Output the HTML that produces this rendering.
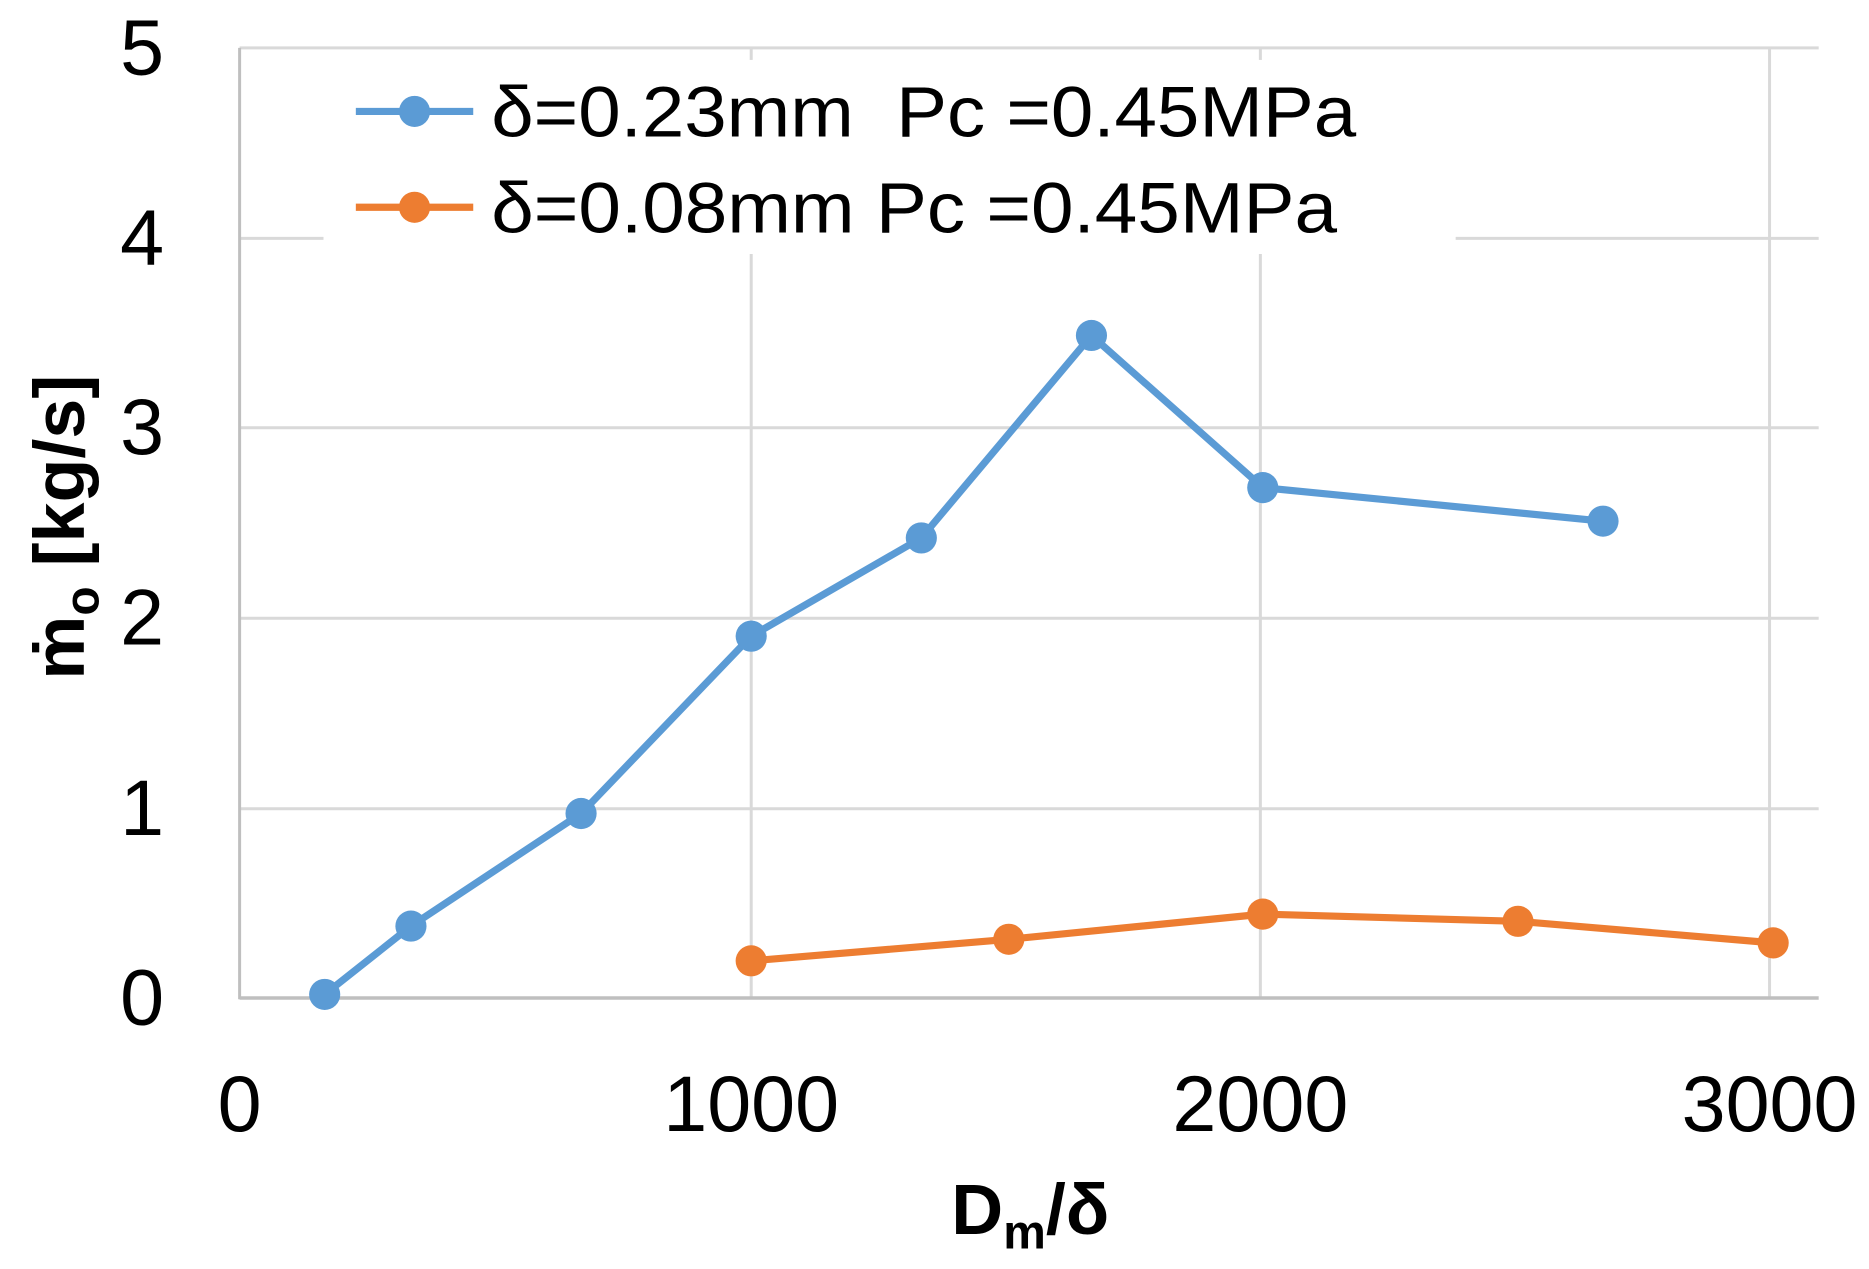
<!DOCTYPE html>
<html><head><meta charset="utf-8"><style>html,body{margin:0;padding:0;background:#fff}svg{display:block}</style></head>
<body>
<svg width="1869" height="1269" viewBox="0 0 1560 1059.2" xmlns="http://www.w3.org/2000/svg" font-family="Liberation Sans, sans-serif">
<rect width="1560" height="1060" fill="#fff"/>
<g stroke="#d9d9d9" stroke-width="2.5" fill="none">
<line x1="200" y1="40" x2="1518" y2="40"/>
<line x1="200" y1="199" x2="1518" y2="199"/>
<line x1="200" y1="357" x2="1518" y2="357"/>
<line x1="200" y1="516" x2="1518" y2="516"/>
<line x1="200" y1="675" x2="1518" y2="675"/>
<line x1="627" y1="40" x2="627" y2="833"/>
<line x1="1052" y1="40" x2="1052" y2="833"/>
<line x1="1477" y1="40" x2="1477" y2="833"/>
</g>
<line x1="200" y1="40" x2="200" y2="834" stroke="#bfbfbf" stroke-width="2.5"/>
<line x1="200" y1="833" x2="1518" y2="833" stroke="#bfbfbf" stroke-width="3"/>
<rect x="270" y="50" width="945" height="162" fill="#fff"/>
<polyline fill="none" stroke="#5b9bd5" stroke-width="6" stroke-linejoin="round" points="271,830 343,773 485,679 627,531 769,449 911,280 1054,407 1338,435"/>
<g fill="#5b9bd5">
<circle cx="271" cy="830" r="13"/><circle cx="343" cy="773" r="13"/><circle cx="485" cy="679" r="13"/><circle cx="627" cy="531" r="13"/><circle cx="769" cy="449" r="13"/><circle cx="911" cy="280" r="13"/><circle cx="1054" cy="407" r="13"/><circle cx="1338" cy="435" r="13"/>
</g>
<polyline fill="none" stroke="#ed7d31" stroke-width="6" stroke-linejoin="round" points="627,802 842,784 1054,763 1267,769 1480,787"/>
<g fill="#ed7d31">
<circle cx="627" cy="802" r="13"/><circle cx="842" cy="784" r="13"/><circle cx="1054" cy="763" r="13"/><circle cx="1267" cy="769" r="13"/><circle cx="1480" cy="787" r="13"/>
</g>
<line x1="297" y1="93" x2="395" y2="93" stroke="#5b9bd5" stroke-width="6"/>
<circle cx="346" cy="93" r="13" fill="#5b9bd5"/>
<line x1="297" y1="173" x2="395" y2="173" stroke="#ed7d31" stroke-width="6"/>
<circle cx="346" cy="173" r="13" fill="#ed7d31"/>
<g font-size="60" fill="#000">
<text x="410" y="114" textLength="722" lengthAdjust="spacingAndGlyphs" xml:space="preserve">δ=0.23mm  Pc =0.45MPa</text>
<text x="410" y="194" textLength="706" lengthAdjust="spacingAndGlyphs">δ=0.08mm Pc =0.45MPa</text>
</g>
<g font-size="66" fill="#000" text-anchor="end">
<text x="137" y="62">5</text><text x="137" y="221">4</text><text x="137" y="379">3</text><text x="137" y="538">2</text><text x="137" y="697">1</text><text x="137" y="855">0</text>
</g>
<g font-size="66" fill="#000" text-anchor="middle">
<text x="200" y="944">0</text><text x="627" y="944">1000</text><text x="1052" y="944">2000</text><text x="1477" y="944">3000</text>
</g>
<text x="860" y="1030" font-size="60" font-weight="bold" text-anchor="middle">D<tspan font-size="40" dy="12">m</tspan><tspan dy="-12">/δ</tspan></text>
<text transform="translate(70,440) rotate(-90)" font-size="60" font-weight="bold" text-anchor="middle">ṁ<tspan font-size="40" dy="12">o</tspan><tspan dy="-12"> [kg/s]</tspan></text>
</svg>
</body></html>
